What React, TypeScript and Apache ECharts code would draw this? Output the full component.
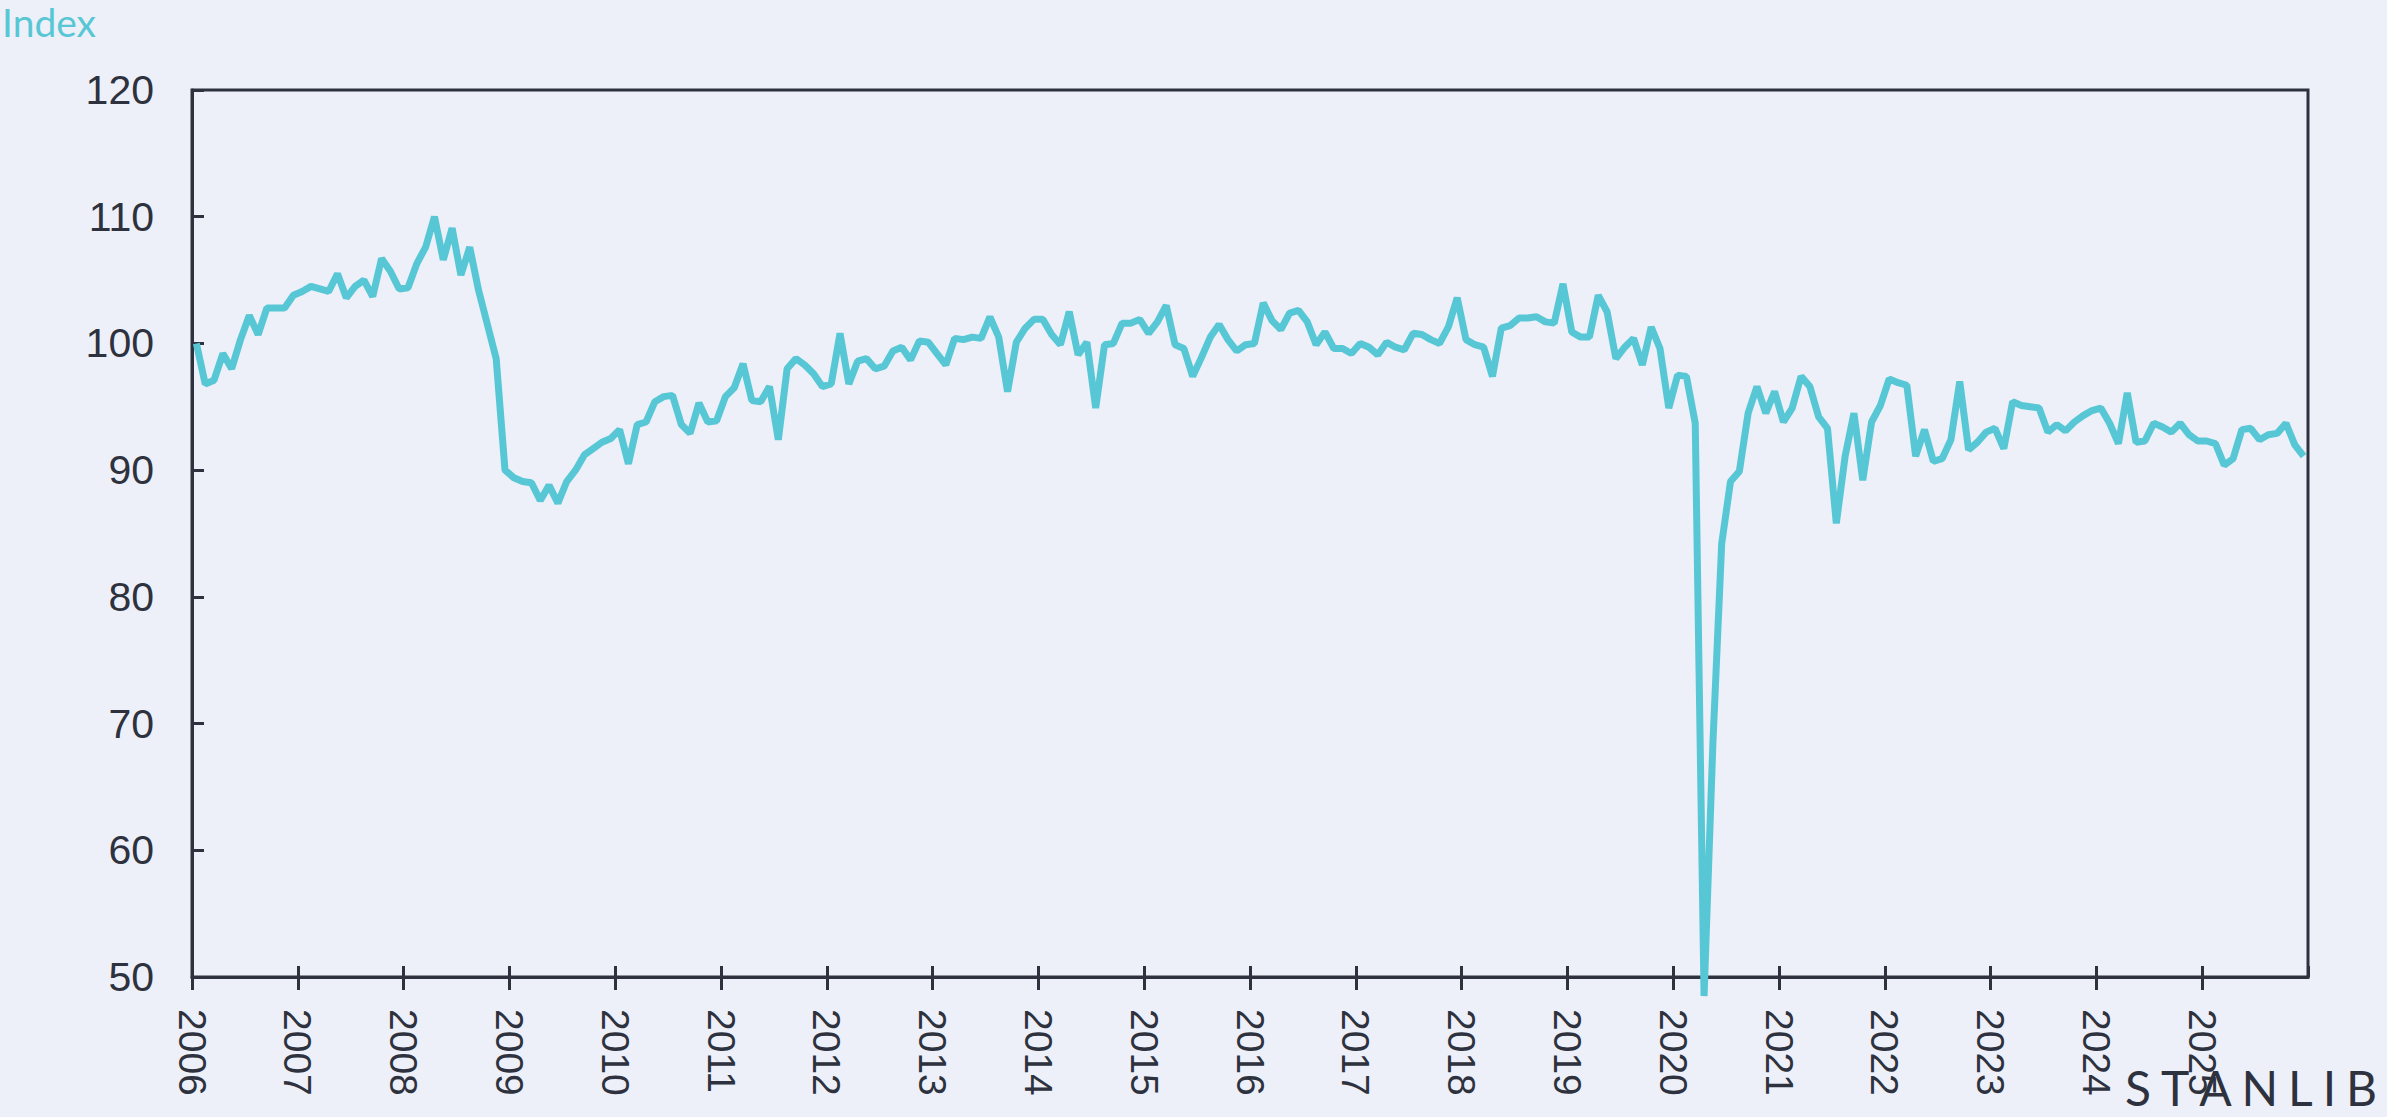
import React, { useEffect, useRef } from "react";
import * as echarts from "echarts";

// ---- Data (monthly index, 2006 = 100) ----
const START_YEAR = 2006;
const y2006 = [100.0, 96.8, 97.1, 99.2, 98.0, 100.3, 102.2, 100.7, 102.8, 102.8, 102.8, 103.8];
const y2007 = [104.1, 104.5, 104.3, 104.1, 105.5, 103.6, 104.5, 105.0, 103.7, 106.7, 105.7, 104.3];
const y2008 = [104.4, 106.3, 107.6, 110.0, 106.6, 109.1, 105.4, 107.6, 104.2, 101.5, 98.8, 90.0];
const y2009 = [89.4, 89.1, 89.0, 87.6, 88.8, 87.4, 89.1, 90.0, 91.2, 91.7, 92.2, 92.5];
const y2010 = [93.2, 90.5, 93.6, 93.8, 95.4, 95.8, 95.9, 93.6, 92.9, 95.3, 93.8, 93.9];
const y2011 = [95.8, 96.5, 98.4, 95.5, 95.4, 96.6, 92.4, 98.0, 98.8, 98.3, 97.6, 96.6];
const y2012 = [96.8, 100.8, 96.8, 98.6, 98.8, 98.0, 98.2, 99.4, 99.7, 98.7, 100.2, 100.1];
const y2013 = [99.2, 98.3, 100.4, 100.3, 100.5, 100.4, 102.1, 100.5, 96.2, 100.1, 101.2, 101.9];
const y2014 = [101.9, 100.7, 99.9, 102.5, 99.1, 100.1, 94.9, 99.9, 100.0, 101.6, 101.6, 101.9];
const y2015 = [100.8, 101.7, 103.0, 99.9, 99.6, 97.4, 98.9, 100.5, 101.5, 100.3, 99.4, 99.9];
const y2016 = [100.0, 103.2, 101.8, 101.1, 102.4, 102.6, 101.7, 99.9, 100.9, 99.6, 99.6, 99.2];
const y2017 = [100.0, 99.7, 99.1, 100.1, 99.7, 99.5, 100.8, 100.7, 100.3, 100.0, 101.3, 103.6];
const y2018 = [100.3, 99.9, 99.7, 97.4, 101.2, 101.4, 102.0, 102.0, 102.1, 101.7, 101.6, 104.7];
const y2019 = [100.9, 100.5, 100.5, 103.8, 102.5, 98.8, 99.7, 100.4, 98.3, 101.3, 99.6, 94.9];
const y2020 = [97.5, 97.4, 93.7, 48.5, 68.4, 84.2, 89.1, 89.9, 94.5, 96.6, 94.5, 96.2];
const y2021 = [93.8, 94.9, 97.4, 96.6, 94.2, 93.3, 85.8, 91.1, 94.5, 89.2, 93.8, 95.1];
const y2022 = [97.2, 96.9, 96.7, 91.1, 93.2, 90.7, 90.9, 92.4, 97.0, 91.6, 92.2, 93.0];
const y2023 = [93.3, 91.7, 95.4, 95.1, 95.0, 94.9, 93.0, 93.6, 93.1, 93.8, 94.3, 94.7];
const y2024 = [94.9, 93.7, 92.1, 96.1, 92.2, 92.3, 93.7, 93.4, 93.0, 93.7, 92.8, 92.3];
const y2025 = [92.3, 92.1, 90.4, 90.9, 93.2, 93.3, 92.4, 92.8, 92.9, 93.7, 92.0, 91.1];

const yearlyValues = [
  y2006, y2007, y2008, y2009, y2010, y2011, y2012, y2013, y2014, y2015,
  y2016, y2017, y2018, y2019, y2020, y2021, y2022, y2023, y2024, y2025,
];

// axis ranges / labels
const X_MIN = 2006;
const X_MAX = 2026;
const Y_MIN = 50;
const Y_MAX = 120;
const Y_STEP = 10;
const AXIS_TITLE = "Index";
const LOGO_TEXT = "STANLIB";

const AXIS_COLOR = "#2d323e";
const LINE_COLOR = "#58c7d5";
const BG = "#edf0f8";

export default function App() {
  const ref = useRef<HTMLDivElement>(null);

  useEffect(() => {
    if (!ref.current) return;
    const chart = echarts.init(ref.current, null, { renderer: "svg" });

    // observations plotted mid-month
    const data: [number, number][] = [];
    yearlyValues.forEach((vals, yi) => {
      vals.forEach((v, m) => {
        data.push([START_YEAR + yi + (m + 0.5) / 12, v]);
      });
    });

    // STANLIB logo letters, spaced out to the logo's width
    const logoFontSize = 48;
    const logoFamily = 'Lato, "Open Sans", sans-serif';
    const canvas = document.createElement("canvas");
    const ctx = canvas.getContext("2d");
    const letters = LOGO_TEXT.split("");
    let widths = letters.map(() => logoFontSize * 0.58);
    if (ctx) {
      ctx.font = `400 ${logoFontSize}px ${logoFamily}`;
      widths = letters.map((c) => ctx.measureText(c).width);
    }
    const targetWidth = 252;
    const sumW = widths.reduce((a, b) => a + b, 0);
    const spacing = (targetWidth - sumW) / (letters.length - 1);
    let lx = 2125;
    const logoEls = letters.map((c, i) => {
      const el = {
        type: "text",
        x: lx,
        y: 1087,
        z: 100,
        style: {
          text: c,
          fontSize: logoFontSize,
          fontFamily: logoFamily,
          fontWeight: 400,
          fill: AXIS_COLOR,
          align: "left",
          verticalAlign: "middle",
        },
      };
      lx += widths[i] + spacing;
      return el;
    });

    const option: any = {
      animation: false,
      backgroundColor: BG,
      grid: {
        left: 192,
        top: 90,
        width: 2116,
        height: 887,
        show: true,
        borderColor: AXIS_COLOR,
        borderWidth: 3,
        backgroundColor: "transparent",
        containLabel: false,
      },
      xAxis: [
        {
          type: "value",
          min: X_MIN,
          max: X_MAX,
          interval: 1,
          position: "bottom",
          axisLine: { show: true, onZero: false, lineStyle: { color: AXIS_COLOR, width: 3 } },
          axisTick: { show: true, inside: false, length: 13, lineStyle: { color: AXIS_COLOR, width: 3 } },
          axisLabel: {
            show: true,
            rotate: -90,
            margin: 32,
            fontSize: 39,
            fontFamily: '"Liberation Sans", Arial, sans-serif',
            color: AXIS_COLOR,
            showMaxLabel: false,
            formatter: (v: number) => String(v),
          },
          splitLine: { show: false },
        },
        {
          type: "value",
          min: X_MIN,
          max: X_MAX,
          interval: 1,
          position: "bottom",
          axisLine: { show: false, onZero: false },
          axisTick: { show: true, inside: true, length: 11, lineStyle: { color: AXIS_COLOR, width: 3 } },
          axisLabel: { show: false },
          splitLine: { show: false },
        },
      ],
      yAxis: {
        type: "value",
        min: Y_MIN,
        max: Y_MAX,
        interval: Y_STEP,
        axisLine: { show: true, onZero: false, lineStyle: { color: AXIS_COLOR, width: 3 } },
        axisTick: { show: true, inside: true, length: 12, lineStyle: { color: AXIS_COLOR, width: 3 } },
        axisLabel: {
          fontSize: 41,
          fontFamily: '"Liberation Sans", Arial, sans-serif',
          color: AXIS_COLOR,
          margin: 38,
        },
        splitLine: { show: false },
      },
      series: [
        {
          type: "line",
          data,
          xAxisIndex: 0,
          yAxisIndex: 0,
          showSymbol: false,
          symbol: "none",
          clip: false,
          lineStyle: { color: LINE_COLOR, width: 7 },
          z: 3,
        },
      ],
      graphic: [
        {
          type: "text",
          x: 2,
          y: 22,
          style: {
            text: AXIS_TITLE,
            fontSize: 39,
            fontFamily: 'Lato, "Open Sans", sans-serif',
            fill: LINE_COLOR,
            align: "left",
            verticalAlign: "middle",
          },
        },
        ...logoEls,
      ],
    };

    chart.setOption(option);
    return () => chart.dispose();
  }, []);

  return (
    <div
      ref={ref}
      style={{
        position: "absolute",
        left: 0,
        top: 0,
        width: 2387,
        height: 1117,
        background: BG,
      }}
    />
  );
}
